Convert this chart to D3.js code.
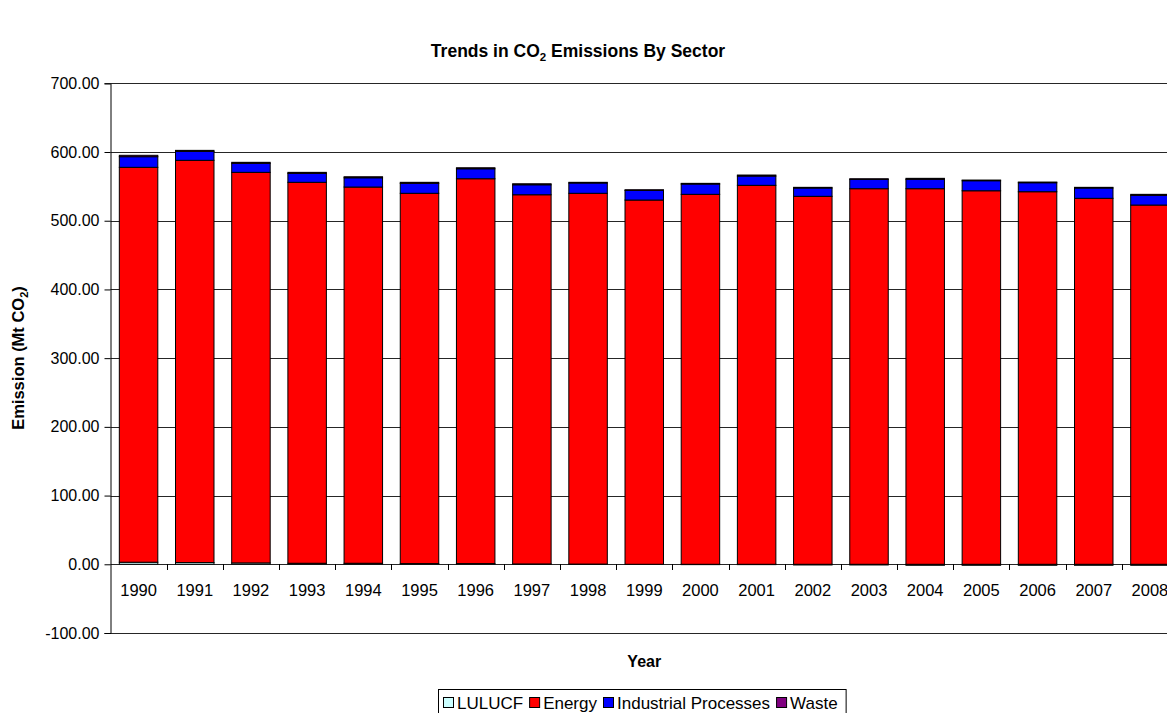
<!DOCTYPE html>
<html><head><meta charset="utf-8">
<script src="https://cdn.jsdelivr.net/npm/d3@7"></script>
<style>
body{margin:0;background:#fff;overflow:hidden}
svg{display:block;font-family:"Liberation Sans",Arial,sans-serif}
</style></head>
<body><svg id="c" width="1167" height="713"></svg>
<script>
const years = ["1990","1991","1992","1993","1994","1995","1996","1997","1998","1999","2000","2001","2002","2003","2004","2005","2006","2007","2008"];
const lulucf = [3.0,2.5,2.0,1.5,1.5,1.0,1.0,0.5,0.3,0.0,-0.5,-0.5,-1.0,-1.0,-1.5,-1.5,-1.5,-1.5,-1.5];
const energy = [574.7,585.4,568.4,554.4,547.5,538.9,560.1,537.3,539.6,530.1,538.4,551.5,535.5,546.6,546.6,543.6,542.2,532.6,522.8];
const industrial = [15.5,13.0,13.1,13.0,13.5,14.5,14.5,14.5,15.0,14.0,15.0,13.5,12.1,13.5,13.6,14.6,13.1,15.0,14.1];
const waste = [2.0,1.5,1.5,1.5,1.5,1.5,1.5,1.5,1.0,1.0,1.0,1.5,1.0,1.0,1.5,1.0,1.0,1.0,1.5];
const seriesNames = ["LULUCF","Energy","Industrial Processes","Waste"];
const seriesColors = ["#CCFFFF","#FF0000","#0000FF","#800080"];
const yTicks = [-100,0,100,200,300,400,500,600,700];

const rows = years.map((y,i)=>({year:y,"LULUCF":lulucf[i],"Energy":energy[i],"Industrial Processes":industrial[i],"Waste":waste[i]}));
const stacked = d3.stack().keys(seriesNames).offset(d3.stackOffsetDiverging)(rows);

const svg = d3.select("#c");
const x0 = 110.5, x1 = 1178, yTop = 83.3, yBot = 633;
const x = d3.scaleBand().domain(years).range([x0,x1]).paddingInner(0.315).paddingOuter(0.157);
const y = d3.scaleLinear().domain([-100,700]).range([yBot,yTop]);

// gridlines
svg.append("g").selectAll("line").data(yTicks).join("line")
  .attr("x1",x0).attr("x2",x1).attr("y1",d=>Math.round(y(d))+0.5).attr("y2",d=>Math.round(y(d))+0.5)
  .attr("stroke","#000").attr("stroke-width",1).attr("stroke-opacity",0.85);

// y axis
const ya = svg.append("g").attr("transform",`translate(${x0},0)`)
  .call(d3.axisLeft(y).tickValues(yTicks).tickFormat(d=>d.toFixed(2)).tickSize(6).tickPadding(5));
ya.select(".domain").attr("stroke","#000");
ya.selectAll("text").attr("font-size",16).attr("fill","#000").attr("font-family","Liberation Sans, Arial, sans-serif");

// bars
svg.append("g").selectAll("g").data(stacked).join("g")
  .attr("fill",(d,i)=>seriesColors[i])
  .selectAll("rect").data(d=>d).join("rect")
  .attr("x",d=>x(d.data.year)).attr("width",x.bandwidth())
  .attr("y",d=>y(Math.max(d[0],d[1]))).attr("height",d=>Math.abs(y(d[0])-y(d[1])))
  .attr("stroke","#000").attr("stroke-width",1);

// category axis at zero
const xa = svg.append("g").attr("transform",`translate(0,${Math.round(y(0))+0.5})`)
  .call(d3.axisBottom(x).tickSize(0).tickPadding(20));
xa.select(".domain").remove();
xa.selectAll("text").attr("font-size",16.5).attr("fill","#000").attr("font-family","Liberation Sans, Arial, sans-serif");
const step = x.step();
svg.append("g").selectAll("line").data(d3.range(1,years.length)).join("line")
  .attr("x1",d=>Math.round(x0+d*step)+0.5).attr("x2",d=>Math.round(x0+d*step)+0.5)
  .attr("y1",Math.round(y(0))).attr("y2",Math.round(y(0))+6).attr("stroke","#000");

// title
const t = svg.append("text").attr("x",578).attr("y",57).attr("text-anchor","middle")
  .attr("font-size",17.5).attr("font-weight","bold");
t.append("tspan").text("Trends in CO");
t.append("tspan").text("2").attr("font-size",11.5).attr("dy",4);
t.append("tspan").text(" Emissions By Sector").attr("dy",-4);

// y label
const yl = svg.append("text").attr("transform","translate(24,358) rotate(-90)").attr("text-anchor","middle")
  .attr("font-size",16.5).attr("font-weight","bold");
yl.append("tspan").text("Emission (Mt CO");
yl.append("tspan").text("2").attr("font-size",11).attr("dy",4);
yl.append("tspan").text(")").attr("dy",-4);

// x label
svg.append("text").attr("x",(x0+x1)/2).attr("y",667).attr("text-anchor","middle")
  .attr("font-size",16).attr("font-weight","bold").text("Year");

// legend
const lg = svg.append("g");
const box = lg.append("rect").attr("x",438.5).attr("y",689.5).attr("height",30).attr("fill","#fff").attr("stroke","#000");
let lx = 443;
seriesNames.forEach((n,i)=>{
  lg.append("rect").attr("x",lx+0.5).attr("y",697.5).attr("width",10).attr("height",10).attr("fill",seriesColors[i]).attr("stroke","#000");
  const tx = lg.append("text").attr("x",lx+14).attr("y",708.5).attr("font-size",17).text(n);
  lx += 14 + tx.node().getComputedTextLength() + 6;
});
box.attr("width",lx-438+2);
</script></body></html>
